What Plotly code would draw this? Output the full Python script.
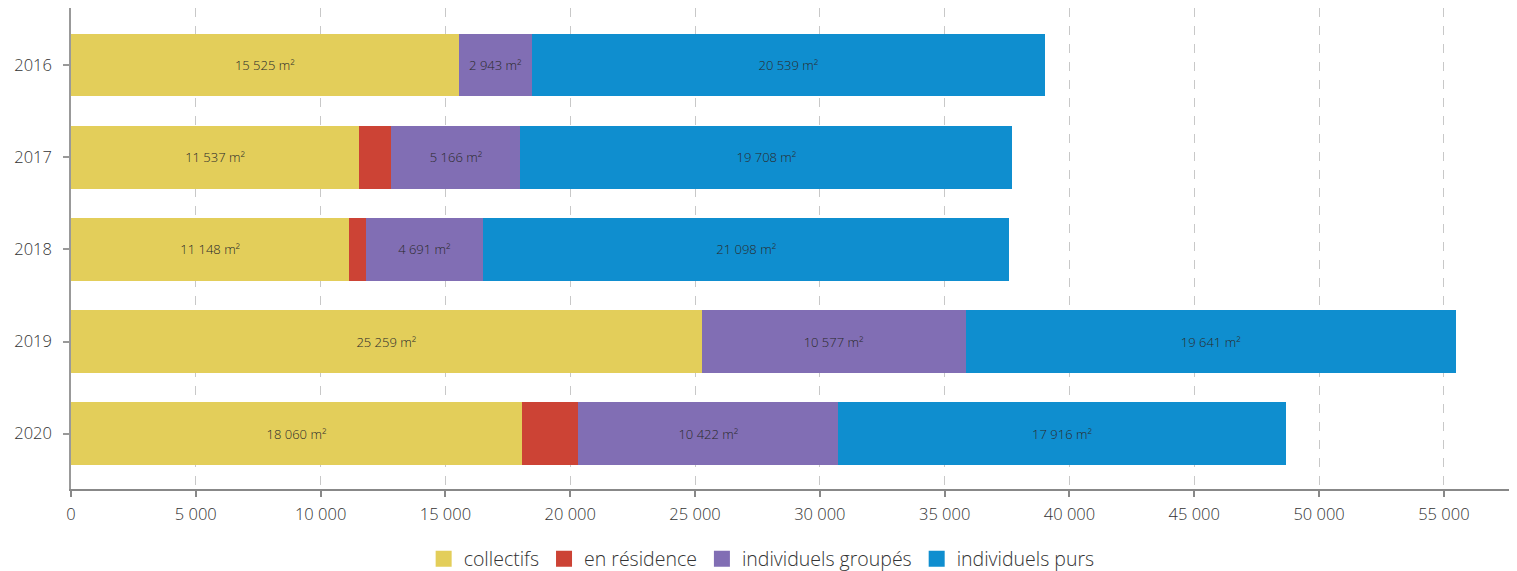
import plotly.graph_objects as go

years = ["2016", "2017", "2018", "2019", "2020"]
collectifs = [15525, 11537, 11148, 25259, 18060]
en_residence = [0, 1300, 660, 0, 2260]
indiv_groupes = [2943, 5166, 4691, 10577, 10422]
indiv_purs = [20539, 19708, 21098, 19641, 17916]
x_ticks = [0, 5000, 10000, 15000, 20000, 25000, 30000, 35000, 40000, 45000, 50000, 55000]

FONT = "Open Sans"

def fmt(v):
    return f"{v:,}".replace(",", " ") + " m²"

series = [
    ("collectifs", collectifs, "#E3CE5A", True),
    ("en résidence", en_residence, "#CC4335", False),
    ("individuels groupés", indiv_groupes, "#816EB4", True),
    ("individuels purs", indiv_purs, "#0F8ECF", True),
]

fig = go.Figure()
for name, vals, color, show_text in series:
    fig.add_trace(go.Bar(
        y=years, x=vals, name=name, orientation="h",
        marker=dict(color=color, line=dict(width=0)),
        text=[fmt(v) for v in vals] if show_text else None,
        textposition="inside" if show_text else "none",
        insidetextanchor="middle",
        textfont=dict(family=FONT, size=13, color="#2a2a2a", weight=300),
        hoverinfo="x+name", showlegend=False,
    ))
# legend entries with larger square swatches
for name, vals, color, show_text in series:
    fig.add_trace(go.Scatter(
        x=[None], y=[None], mode="markers", name=name,
        marker=dict(symbol="square", size=22, color=color),
        hoverinfo="skip", showlegend=True,
    ))

fig.update_layout(
    barmode="stack",
    bargap=0.32,
    width=1517, height=571,
    margin=dict(l=63, r=0, t=0, b=88),
    plot_bgcolor="white", paper_bgcolor="white",
    separators=", ",
    font=dict(family=FONT, color="#333333", weight=300),
    uniformtext=dict(minsize=12, mode="show"),
    legend=dict(orientation="h", x=0.475, xanchor="center", y=-0.105, yanchor="top",
                font=dict(family=FONT, size=19.5, color="#333333", weight=300),
                traceorder="normal", itemwidth=30, itemsizing="trace"),
    xaxis=dict(range=[0, 58250], tickvals=x_ticks, tickformat=",d",
               showgrid=True, gridcolor="#c8c8c8", griddash="dash", gridwidth=1.2,
               showline=True, linecolor="#888888", linewidth=2,
               ticks="outside", ticklen=6, tickwidth=2, tickcolor="#888888",
               ticklabelstandoff=3,
               tickfont=dict(family=FONT, size=16.5, color="#333333", weight=300),
               zeroline=False, automargin=False),
    yaxis=dict(autorange=False, range=[4.6, -0.62], type="category",
               showgrid=False, showline=True, linecolor="#999999", linewidth=1.5,
               ticks="outside", ticklen=6, tickwidth=2, tickcolor="#999999",
               ticklabelstandoff=8,
               tickfont=dict(family=FONT, size=16.5, color="#333333", weight=300),
               automargin=False),
)

fig.write_html("out.html")
